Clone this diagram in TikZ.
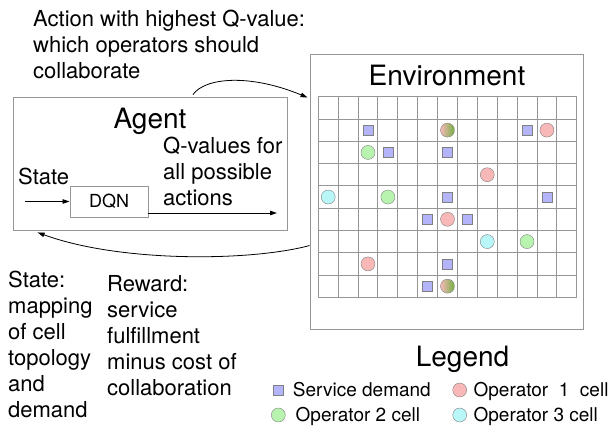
\documentclass[tikz,border=0pt]{standalone}
\usepackage{fontspec}
\setmainfont{TeX Gyre Heros}
\usetikzlibrary{arrows.meta, positioning}

\definecolor{boxgray}{RGB}{150,150,150}
\definecolor{demandblue}{RGB}{180,180,250}
\definecolor{opone}{RGB}{248,184,184}
\definecolor{optwo}{RGB}{184,244,176}
\definecolor{opthree}{RGB}{184,246,248}
\definecolor{mixgreen}{RGB}{112,176,64}

\begin{document}
\begin{tikzpicture} [
    x=1pt, y=-1pt,
    every node/.style = {font=\fontsize{22}{26}\selectfont},
    panel/.style = {draw=boxgray, line width=0.9pt, inner sep=0pt},
    heading/.style = {font=\fontsize{28}{32}\selectfont, anchor=base, inner sep=0pt},
    note/.style = {align=left, anchor=north west, inner sep=0pt},
    gridline/.style = {draw=boxgray, line width=0.9pt},
    demand/.style = {draw=gray, fill=demandblue, minimum size=10pt, inner sep=0pt},
    cell/.style = {circle, draw=gray, fill=#1, minimum size=14pt, inner sep=0pt},
    mixcell/.style = {circle, draw=gray, left color=opone, right color=mixgreen,
        minimum size=14pt, inner sep=0pt},
    key/.style = {font=\fontsize{19}{22}\selectfont, inner sep=0pt,
        text height=13.7pt, text depth=0pt},
    flow/.style = {-{Triangle[length=7pt,width=4.5pt]}, line width=0.8pt}]

    \useasboundingbox (0,0) rectangle (609,425);

    % agent side
    \node (agent) [panel, minimum width=274pt, minimum height=133pt] at (150,163.5) {};
    \node (agenttitle) [heading] at (150,128) {Agent};
    \node (dqn) [panel, font=\fontsize{18}{21}\selectfont,
        minimum width=78pt, minimum height=31pt] at (109,201.5) {DQN};
    \node (statein) [anchor=base west, inner sep=0pt] at (18,184) {State};
    \node (qtext) [note] at (163,137) {Q-values for\\all possible\\actions};
    \coordinate (statestart) at (25,201.5);
    \coordinate (qend) at (277,213);

    % environment
    \node (env) [panel, minimum width=273pt, minimum height=275pt] at (446.5,191.5) {};
    \node (envtitle) [heading] at (447,85) {Environment};

    \foreach \i in {0,...,13}
        \draw [gridline] ({318.3+19.88*\i},96.7) -- ({318.3+19.88*\i},297.3);
    \foreach \j in {0,...,9}
        \draw [gridline] (318.3,{96.7+22.29*\j}) -- (576.7,{96.7+22.29*\j});

    \foreach \c/\r [count=\k] in {2/1, 10/1, 3/2, 6/2, 6/4, 11/4, 5/5, 7/5, 6/7, 5/8}
        \node (dem\k) [demand] at ({318.3+19.88*(\c+0.5)},{96.7+22.29*(\r+0.5)}) {};
    \foreach \c/\r [count=\k] in {11/1, 8/3, 6/5, 2/7}
        \node (opa\k) [cell=opone] at ({318.3+19.88*(\c+0.5)},{96.7+22.29*(\r+0.5)}) {};
    \foreach \c/\r [count=\k] in {2/2, 3/4, 10/6}
        \node (opb\k) [cell=optwo] at ({318.3+19.88*(\c+0.5)},{96.7+22.29*(\r+0.5)}) {};
    \foreach \c/\r [count=\k] in {0/4, 8/6}
        \node (opc\k) [cell=opthree] at ({318.3+19.88*(\c+0.5)},{96.7+22.29*(\r+0.5)}) {};
    \foreach \c/\r [count=\k] in {6/1, 6/8}
        \node (opab\k) [mixcell] at ({318.3+19.88*(\c+0.5)},{96.7+22.29*(\r+0.5)}) {};

    % texts
    \node (acttext) [note] at (33,10) {Action with highest Q-value:\\which operators should\\collaborate};
    \node (statetext) [note] at (8,271) {State:\\mapping\\of cell\\topology\\and\\demand};
    \node (rewardtext) [note] at (107,275) {Reward:\\service\\fulfillment\\minus cost of\\collaboration};

    % legend
    \node (legendtitle) [heading] at (462.5,366.7) {Legend};
    \node (keydem) [demand, minimum size=9.5pt] at (278.3,390) {};
    \node (keydemtext) [key, right=9.5pt of keydem] {Service demand};
    \node (keyopa) [cell=opone] at (459.7,390) {};
    \node (keyopatext) [key, right=6.5pt of keyopa] {Operator\ \ 1\ \ cell};
    \node (keyopb) [cell=optwo] at (278.3,415) {};
    \node (keyopbtext) [key, right=10pt of keyopb] {Operator 2 cell};
    \node (keyopc) [cell=opthree] at (459.7,415) {};
    \node (keyopctext) [key, right=6.5pt of keyopc] {Operator 3 cell};

    % connectors
    \draw [flow] (statestart) -- (dqn.west);
    \draw [flow] ([yshift=-11.5pt]dqn.east) -- (qend);
    \draw [flow] ([xshift=43pt,yshift=2pt]agent.north)
        .. controls +(12,-17) and +(-58,-24) .. ([xshift=-2pt,yshift=-44pt]env.north west);
    \draw [flow] ([yshift=-192pt]env.north west)
        .. controls +(-60,16) and +(82,30) .. ([xshift=25pt,yshift=-2pt]agent.south west);
\end{tikzpicture}
\end{document}
